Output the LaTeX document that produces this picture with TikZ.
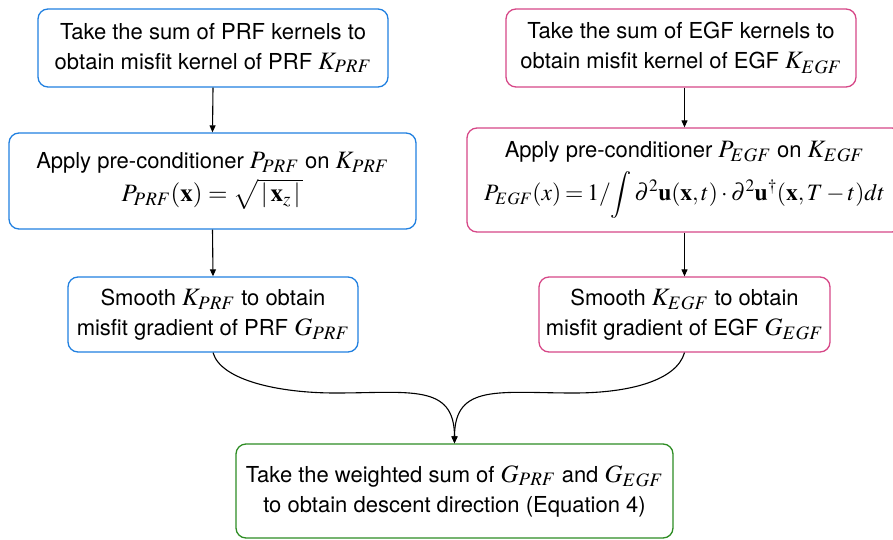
\documentclass[tikz,border=0pt]{standalone}
\usepackage{mathptmx}
\usepackage[no-math]{fontspec}
\setmainfont{TeX Gyre Heros}
\DeclareMathSizes{22}{25}{19}{15}
\usetikzlibrary{arrows.meta}
\definecolor{cblue}{RGB}{33,128,224}
\definecolor{cpink}{RGB}{214,71,135}
\definecolor{cgreen}{RGB}{45,140,35}
\begin{document}
\begin{tikzpicture}[x=1pt,y=-1pt,
  box/.style={draw, line width=1.3pt, rounded corners=10pt, align=center,
    inner sep=0pt, font=\fontsize{22}{30}\selectfont},
  bluebox/.style={box, draw=cblue},
  pinkbox/.style={box, draw=cpink},
  greenbox/.style={box, draw=cgreen},
  arr/.style={line width=1.1pt, -{Triangle[length=7pt,width=6pt]}}]
\useasboundingbox (0,0) rectangle (893,540);
\node[bluebox, minimum width=350pt, minimum height=78pt] (A1) at (213,48)
  {Take the sum of PRF kernels to\\ obtain misfit kernel of PRF $K_{PRF}$};
\node[bluebox, minimum width=407pt, minimum height=96pt] (A2) at (212.5,181)
  {Apply pre-conditioner $P_{PRF}$ on $K_{PRF}$\\[3pt] $P_{PRF}(\mathbf{x}) = \sqrt{\,|\,\mathbf{x}_z\,|\,}$};
\node[bluebox, minimum width=290pt, minimum height=75pt] (A3) at (213,314.5)
  {Smooth $K_{PRF}$ to obtain\\ misfit gradient of PRF $G_{PRF}$};
\node[pinkbox, minimum width=350pt, minimum height=78pt] (B1) at (681,48)
  {Take the sum of EGF kernels to\\ obtain misfit kernel of EGF $K_{EGF}$};
\node[pinkbox, minimum width=435pt, minimum height=104pt] (B2) at (684.5,180)
  {Apply pre-conditioner $P_{EGF}$ on $K_{EGF}$\\[8pt]
   {\fontsize{23.5}{30}\selectfont\thickmuskip=3mu\medmuskip=2.5mu
   $\displaystyle P_{EGF}(x) = 1/\!\int \partial^2\mathbf{u}(\mathbf{x},t)\cdot\partial^2\mathbf{u}^{\dagger}(\mathbf{x},T-t)dt$}};
\node[pinkbox, minimum width=291pt, minimum height=75pt] (B3) at (684.5,314.5)
  {Smooth $K_{EGF}$ to obtain\\ misfit gradient of EGF $G_{EGF}$};
\node[greenbox, minimum width=437pt, minimum height=94pt] (G) at (454.5,491)
  {Take the weighted sum of $G_{PRF}$ and $G_{EGF}$\\ to obtain descent direction (Equation 4)};
\coordinate (mL) at (335,393);
\coordinate (mR) at (574,393);
\draw[arr] (A1.south) -- (A2.north);
\draw[arr] (A2.south) -- (A3.north);
\draw[arr] (B1.south -| B2.north) -- (B2.north);
\draw[arr] (B2.south) -- (B3.north);
\draw[arr] (A3.south) .. controls +(8,28) and +(-55,0) .. (mL)
  .. controls +(75,0) and +(0,-60) .. (G.north);
\draw[arr] (B3.south) .. controls +(-8,28) and +(55,0) .. (mR)
  .. controls +(-75,0) and +(0,-60) .. (G.north);
\end{tikzpicture}
\end{document}
